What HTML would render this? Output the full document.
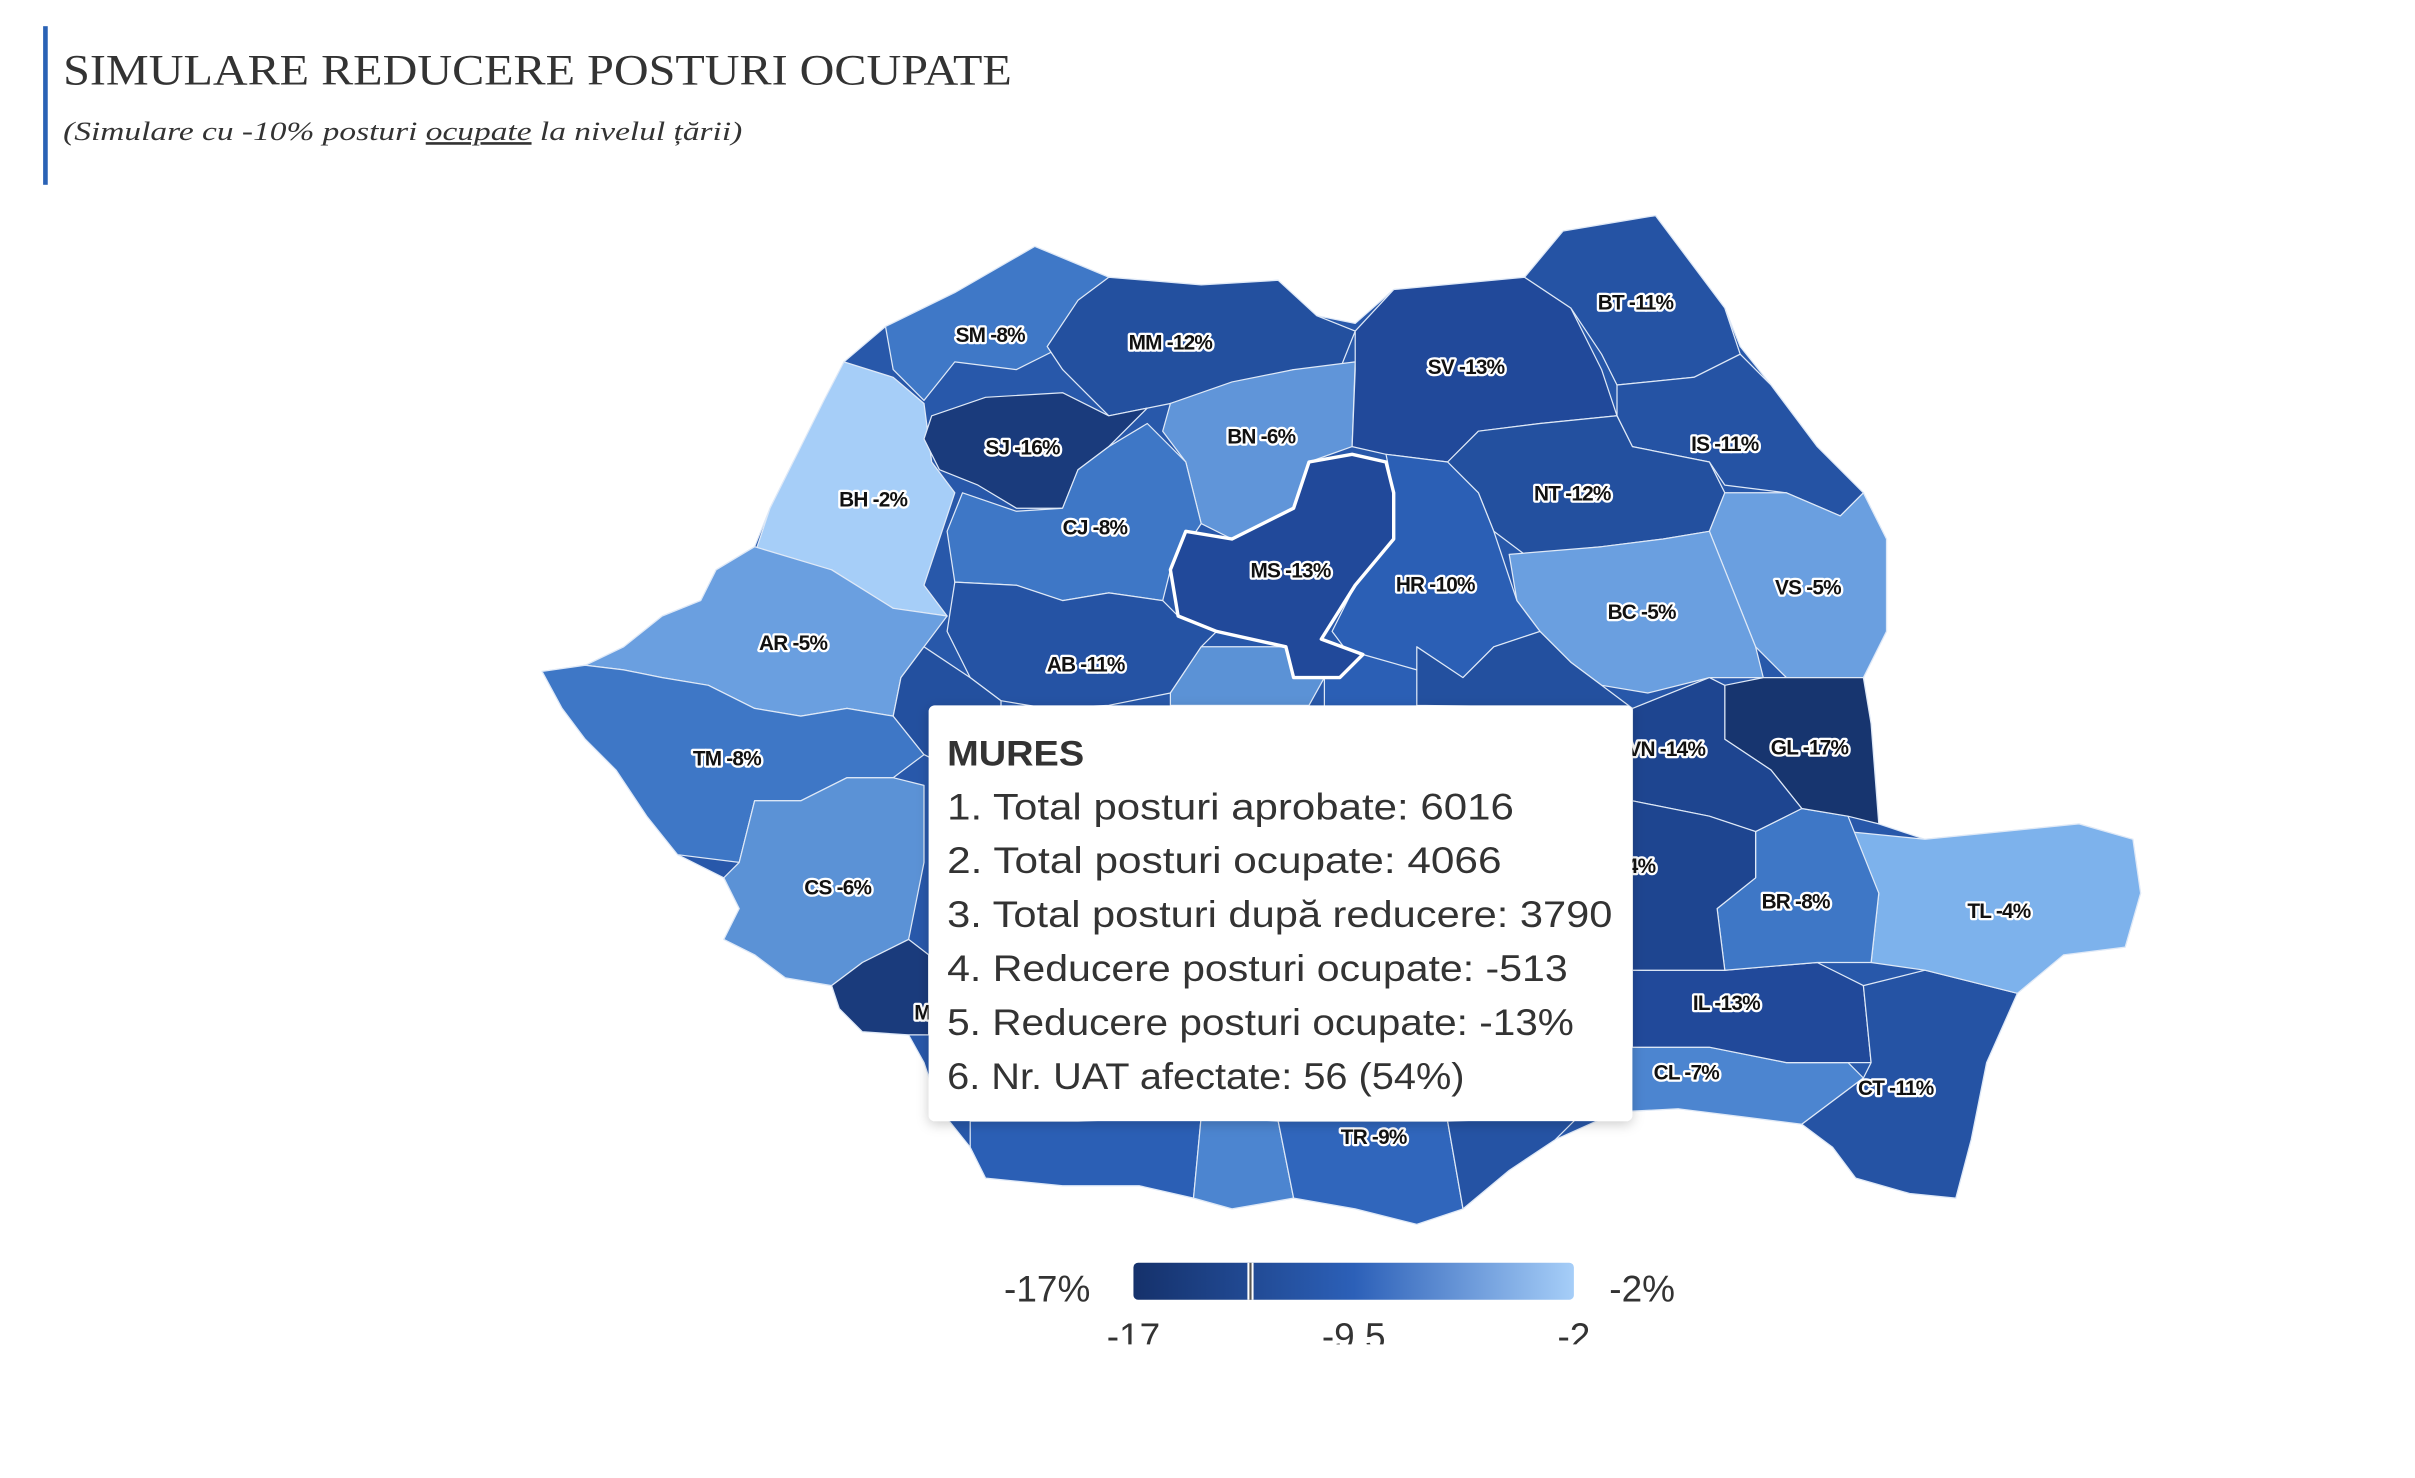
<!DOCTYPE html>
<html><head><meta charset="utf-8"><style>
html,body{margin:0;padding:0;background:#fff;}
svg{display:block;}
.l{font-family:"Liberation Sans",sans-serif;font-weight:bold;font-size:13.5px;fill:#111;stroke:#fff;stroke-width:3px;paint-order:stroke;stroke-linejoin:round;text-anchor:middle;letter-spacing:-0.5px}
.c{stroke:#dfe9f7;stroke-width:0.8;stroke-linejoin:round}
</style></head><body>
<svg width="2415" height="1478" viewBox="0 0 1568.18 959.74" xmlns="http://www.w3.org/2000/svg">
<defs>
<linearGradient id="g" x1="0" x2="1" y1="0" y2="0">
<stop offset="0" stop-color="#15316b"/><stop offset="0.5" stop-color="#2c60b8"/><stop offset="1" stop-color="#a6cef8"/>
</linearGradient>
<filter id="sh" x="-10%" y="-10%" width="120%" height="130%"><feDropShadow dx="0" dy="2" stdDeviation="4" flood-color="#000" flood-opacity="0.2"/></filter>
<clipPath id="tc"><rect x="0" y="0" width="1568" height="873"/></clipPath>
</defs>
<rect x="28" y="17" width="3" height="103" fill="#2a62b5"/>
<text x="41" y="55" font-family="'Liberation Serif',serif" font-size="28" fill="#333" textLength="616" lengthAdjust="spacingAndGlyphs">SIMULARE REDUCERE POSTURI OCUPATE</text>
<text x="41" y="91" font-family="'Liberation Serif',serif" font-style="italic" font-size="17" fill="#333" textLength="441" lengthAdjust="spacingAndGlyphs">(Simulare cu -10% posturi <tspan text-decoration="underline">ocupate</tspan> la nivelul țării)</text>

<g class="c">
<polygon fill="#2858aa" points="548,235 575,212 620,190 672,160 720,180 780,185 830,182 855,205 880,210 905,188 990,180 1015,150 1075,140 1090,160 1120,200 1130,225 1150,250 1180,290 1210,320 1225,350 1225,410 1210,440 1215,470 1220,535 1250,545 1300,540 1350,535 1385,545 1390,580 1380,615 1340,620 1310,645 1290,690 1280,740 1270,778 1240,775 1205,765 1190,745 1170,730 1130,725 1090,720 1050,722 1010,740 980,760 950,785 920,795 880,785 840,778 800,785 775,778 740,770 690,770 640,765 630,745 610,720 600,690 590,672 560,670 545,655 540,640 510,635 490,620 470,610 480,590 470,570 440,555 420,530 400,500 380,480 365,460 352,436 380,432 405,420 430,400 455,390 465,370 490,355 500,330 515,300 530,275 545,250"/>
<polygon fill="#3f78c7" points="575,212 620,190 672,160 720,180 700,200 690,225 660,240 620,235 600,260 580,240"/>
<polygon fill="#23509f" points="700,195 720,180 780,185 830,182 855,205 880,215 870,240 840,240 800,250 760,262 720,270 690,240 680,225"/>
<polygon fill="#a6cef8" points="548,235 580,245 600,262 605,300 620,320 610,350 600,380 615,400 580,395 540,370 490,360 500,330 520,290 535,260"/>
<polygon fill="#1a3b7c" points="605,270 640,258 690,255 720,270 745,265 720,290 700,305 690,330 660,330 635,315 610,305 600,285"/>
<polygon fill="#6095d9" points="760,262 800,248 840,240 880,235 878,290 850,300 840,330 800,350 780,340 770,300 755,280"/>
<polygon fill="#3e77c6" points="720,290 745,275 770,300 780,340 760,370 755,390 720,385 690,390 660,380 620,378 615,345 625,320 660,332 690,330 700,305"/>
<polygon fill="#21499a" points="880,215 905,188 990,180 1020,200 1040,240 1050,270 1000,275 960,280 940,300 900,295 878,290 880,240"/>
<polygon fill="#2553a4" points="990,180 1015,150 1075,140 1090,160 1120,200 1130,230 1100,245 1050,250 1040,230 1020,200"/>
<polygon fill="#2553a4" points="1050,250 1100,245 1130,230 1150,250 1180,290 1210,320 1195,335 1160,320 1120,315 1110,300 1060,290 1050,270"/>
<polygon fill="#23509f" points="940,300 960,280 1000,275 1050,270 1060,290 1110,300 1120,320 1110,345 1080,350 1040,355 990,360 970,345 960,320"/>
<polygon fill="#6a9fe0" points="1120,320 1160,320 1195,335 1210,320 1225,350 1225,410 1210,440 1160,440 1140,420 1120,370 1110,345"/>
<polygon fill="#6a9fe0" points="980,360 1040,355 1080,350 1110,345 1120,370 1140,420 1145,440 1110,440 1070,450 1040,445 1020,430 1000,410 985,390"/>
<polygon fill="#2b5fb5" points="900,295 940,300 960,320 970,345 985,390 1000,410 970,420 950,440 920,435 880,430 865,410 880,380 905,350 905,320"/>
<polygon fill="#2553a4" points="620,378 660,380 690,390 720,385 755,390 765,400 790,410 780,420 760,450 720,458 680,460 650,455 630,440 615,410"/>
<polygon fill="#6a9fe0" points="352,436 380,432 405,420 430,400 455,390 465,370 490,355 540,370 580,395 615,400 600,420 585,440 580,465 550,460 520,465 490,460 460,445 430,440 405,435 380,432"/>
<polygon fill="#3e77c6" points="352,436 380,432 405,435 430,440 460,445 490,460 520,465 550,460 580,465 600,490 580,505 550,505 520,520 490,520 480,560 440,555 420,530 400,500 380,480 365,460"/>
<polygon fill="#23509f" points="585,440 600,420 630,440 650,455 650,490 620,500 600,490 580,465"/>
<polygon fill="#5b92d6" points="480,560 490,520 520,520 550,505 580,505 600,510 600,560 590,610 560,625 540,640 510,635 490,620 470,610 480,590 470,570"/>
<polygon fill="#1a3b7c" points="560,625 590,610 603,620 603,672 590,672 560,670 545,655 540,640"/>
<polygon fill="#2b5fb5" points="630,728 700,728 780,725 775,778 740,770 690,770 640,765 630,745"/>
<polygon fill="#4c85d0" points="780,725 830,728 840,778 800,785 775,778"/>
<polygon fill="#3066bc" points="830,728 940,728 950,785 920,795 880,785 840,778"/>
<polygon fill="#2553a4" points="940,728 1025,725 1010,740 980,760 950,785"/>
<polygon fill="#4c85d0" points="1030,680 1110,680 1160,690 1200,690 1210,700 1170,730 1130,725 1090,720 1050,722 1025,725 1025,690"/>
<polygon fill="#21499a" points="1060,630 1120,630 1180,625 1210,640 1215,690 1160,690 1110,680 1060,680"/>
<polygon fill="#2553a4" points="1210,640 1250,630 1310,645 1290,690 1280,740 1270,778 1240,775 1205,765 1190,745 1170,730 1210,700 1215,690"/>
<polygon fill="#7db2ec" points="1200,540 1250,545 1300,540 1350,535 1385,545 1390,580 1380,615 1340,620 1310,645 1250,630 1215,625 1220,580"/>
<polygon fill="#3e77c6" points="1140,540 1170,525 1200,530 1220,580 1215,625 1180,625 1120,630 1115,590 1140,570"/>
<polygon fill="#17356f" points="1120,445 1145,440 1160,440 1210,440 1215,470 1220,535 1200,530 1170,525 1150,500 1120,480"/>
<polygon fill="#1e4590" points="1060,460 1110,440 1120,445 1120,480 1150,500 1170,525 1140,540 1110,530 1060,520"/>
<polygon fill="#1e4590" points="1060,520 1110,530 1140,540 1140,570 1115,590 1120,630 1060,630"/>
<polygon fill="#5b92d6" points="760,450 780,420 835,420 860,440 850,458 760,458"/>
<polygon fill="#2b5fb5" points="860,440 885,425 920,435 950,440 1000,455 1060,460 1060,520 860,520"/>
<polygon fill="#23509f" points="920,420 950,440 970,420 1000,410 1020,430 1040,445 1060,460 920,458"/>
<polygon fill="#21499a" stroke="#fff" stroke-width="2.2" points="770,345 800,350 840,330 850,300 878,295 900,300 905,320 905,350 880,380 858,415 885,425 870,440 840,440 835,420 790,410 765,400 760,370"/>
</g>

<g class="l">
<text x="643" y="222">SM -8%</text><text x="760" y="227">MM -12%</text><text x="952" y="243">SV -13%</text>
<text x="1062" y="201">BT -11%</text><text x="1120" y="293">IS -11%</text><text x="1021" y="325">NT -12%</text>
<text x="819" y="288">BN -6%</text><text x="664" y="295">SJ -16%</text><text x="567" y="329">BH -2%</text>
<text x="711" y="347">CJ -8%</text><text x="838" y="375">MS -13%</text><text x="932" y="384">HR -10%</text>
<text x="1174" y="386">VS -5%</text><text x="1066" y="402">BC -5%</text><text x="515" y="422">AR -5%</text>
<text x="705" y="436">AB -11%</text><text x="472" y="497">TM -8%</text><text x="1082" y="491">VN -14%</text>
<text x="1175" y="490">GL -17%</text><text x="1050" y="567">BZ -14%</text><text x="544" y="581">CS -6%</text>
<text x="1166" y="590">BR -8%</text><text x="1298" y="596">TL -4%</text><text x="1121" y="656">IL -13%</text>
<text x="1095" y="701">CL -7%</text><text x="1231" y="711">CT -11%</text><text x="892" y="743">TR -9%</text>
<text x="620" y="662">MH -15%</text>
</g>

<rect x="603" y="458" width="457" height="270" rx="4" fill="#fff" filter="url(#sh)"/>
<g font-family="'Liberation Sans',sans-serif" fill="#333">
<text x="615" y="497" font-size="23" font-weight="bold" textLength="89" lengthAdjust="spacingAndGlyphs">MURES</text>
<g font-size="24" lengthAdjust="spacingAndGlyphs">
<text x="615" y="532" textLength="368" lengthAdjust="spacingAndGlyphs">1. Total posturi aprobate: 6016</text>
<text x="615" y="567" textLength="360" lengthAdjust="spacingAndGlyphs">2. Total posturi ocupate: 4066</text>
<text x="615" y="602" textLength="432" lengthAdjust="spacingAndGlyphs">3. Total posturi după reducere: 3790</text>
<text x="615" y="637" textLength="403" lengthAdjust="spacingAndGlyphs">4. Reducere posturi ocupate: -513</text>
<text x="615" y="672" textLength="407" lengthAdjust="spacingAndGlyphs">5. Reducere posturi ocupate: -13%</text>
<text x="615" y="707" textLength="336" lengthAdjust="spacingAndGlyphs">6. Nr. UAT afectate: 56 (54%)</text>
</g>
</g>

<rect x="736" y="820" width="286" height="24" rx="3" fill="url(#g)"/>
<rect x="810" y="820" width="4" height="24" fill="#fff"/><rect x="811.3" y="820" width="1.4" height="24" fill="#555"/>
<g font-family="'Liberation Sans',sans-serif" font-size="24" fill="#333">
<text x="708" y="845" text-anchor="end">-17%</text>
<text x="1045" y="845">-2%</text>
<g clip-path="url(#tc)" text-anchor="middle">
<text x="736" y="876">-17</text><text x="879" y="876">-9.5</text><text x="1022" y="876">-2</text>
</g>
</g>
</svg>
</body></html>
